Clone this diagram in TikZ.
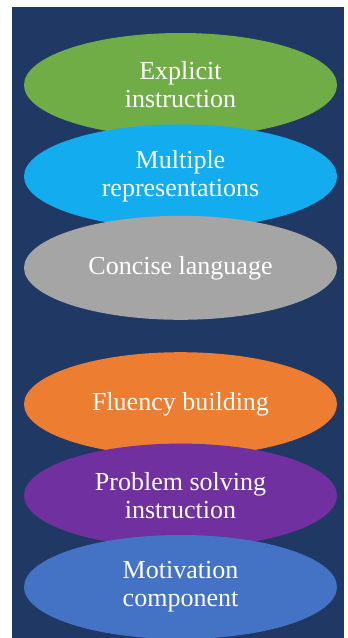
\documentclass[tikz,border=0pt]{standalone}
\usepackage{fontspec}
\setmainfont{Liberation Serif}
\usepackage{xcolor}
\usetikzlibrary{positioning, shapes.geometric}

\definecolor{backnavy}{HTML}{203864}
\definecolor{stepgreen}{HTML}{70AD47}
\definecolor{stepcyan}{HTML}{13ADEF}
\definecolor{stepgrey}{HTML}{A5A5A5}
\definecolor{steporange}{HTML}{ED7D31}
\definecolor{steppurple}{HTML}{7030A0}
\definecolor{stepblue}{HTML}{4472C4}

\begin{document}
\begin{tikzpicture}[
          x=1pt, y=-1pt,
          node distance=-13pt,
          every node/.style={ellipse, minimum width=313pt, minimum height=104pt,
            inner sep=0pt, text=white, align=center,
            font=\fontsize{26}{28}\selectfont}
        ]
          \useasboundingbox (0,0) rectangle (348,638);
          \fill[backnavy] (12,7) rectangle (344,638);

          \node[fill=stepgreen] (explicit) at (180.5,85) {Explicit\\instruction};
          \node[fill=stepcyan, below=of explicit] (multiple) {Multiple\\representations};
          \node[fill=stepgrey, below=of multiple] (concise) {Concise language};

          \node[fill=steporange, below=32pt of concise] (fluency) {Fluency building};
          \node[fill=steppurple, below=of fluency] (problem) {Problem solving\\instruction};
          \node[fill=stepblue, below=of problem] (motivation) {Motivation\\component};
        \end{tikzpicture}
\end{document}
